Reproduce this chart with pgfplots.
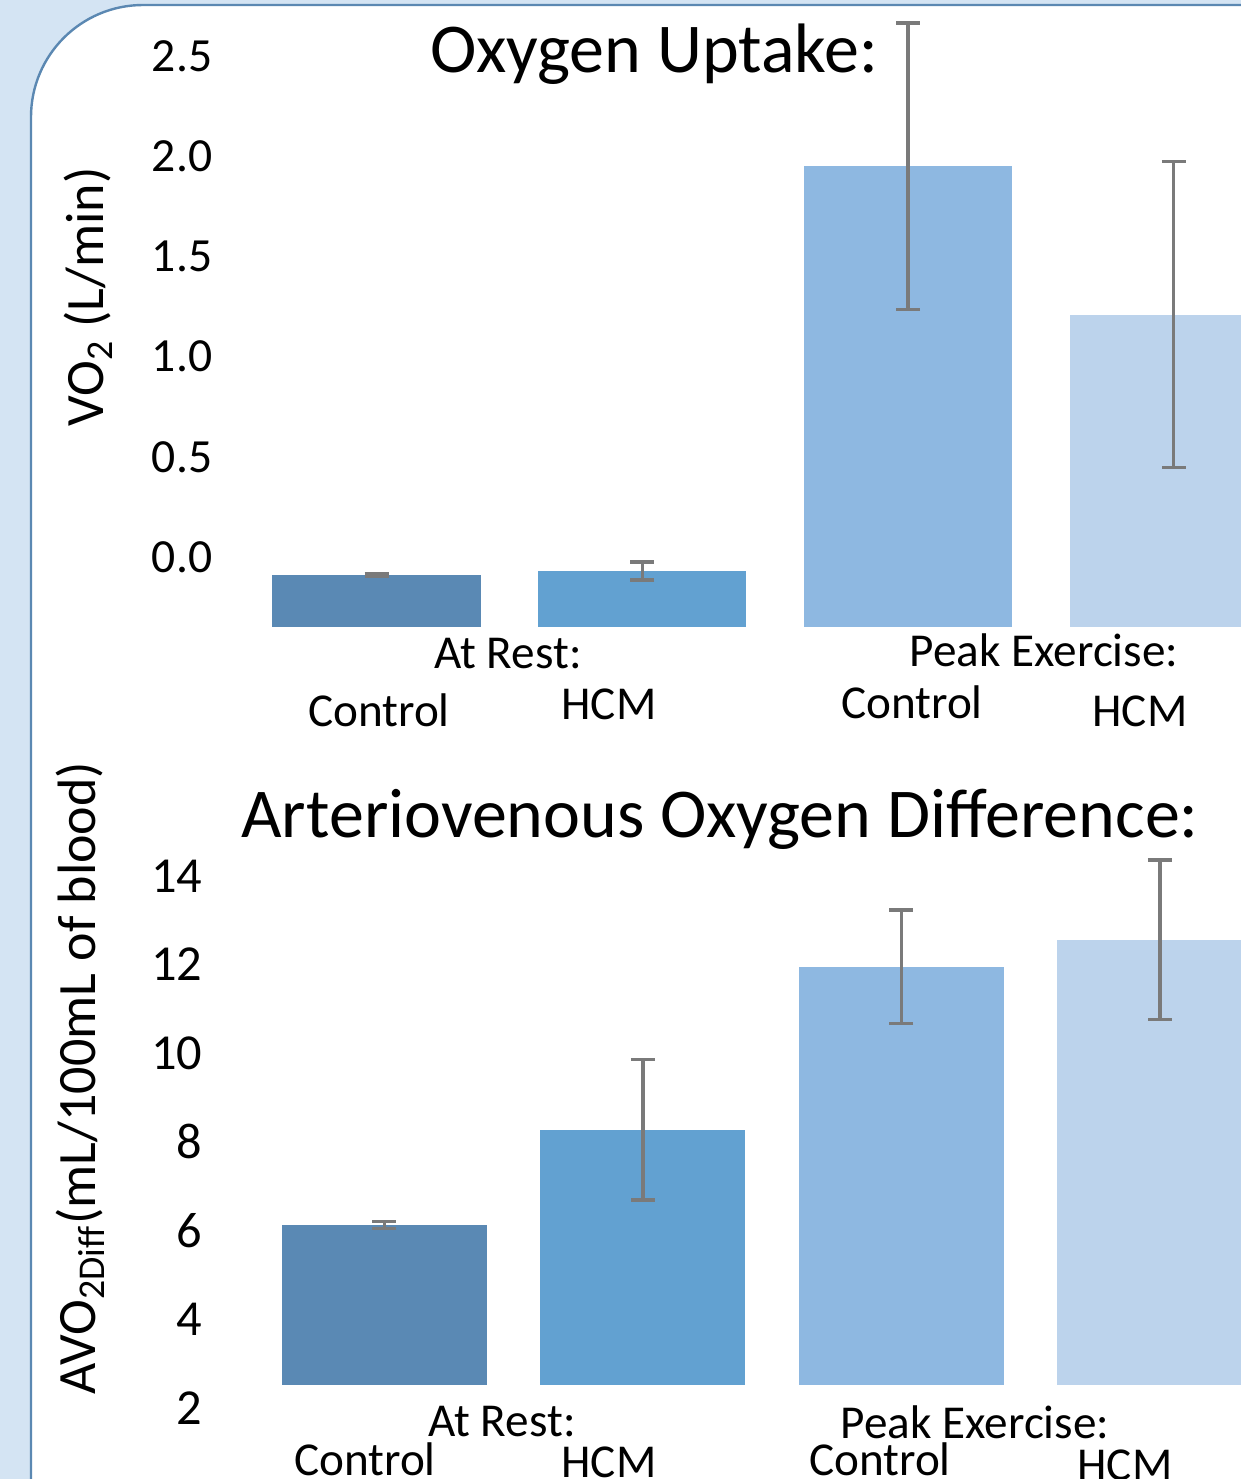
\documentclass[border=0pt]{standalone}
\usepackage{pgfplots}
\pgfplotsset{compat=1.18}
\usepackage{fontspec}
\setmainfont{Carlito}
\definecolor{bgblue}{HTML}{D4E4F3}
\definecolor{panelline}{HTML}{5B88B2}
\definecolor{cA}{HTML}{5A89B4}
\definecolor{cB}{HTML}{62A1D1}
\definecolor{cC}{HTML}{8EB8E1}
\definecolor{cD}{HTML}{BCD3EC}
\definecolor{errgray}{HTML}{7A7A7A}
\newcommand{\fs}[1]{\fontsize{#1}{#1}\selectfont}
\pgfplotsset{
  barstyle/.style={ybar, bar shift=0pt, draw=none,
    error bars/y dir=both, error bars/y explicit,
    error bars/error bar style={errgray, line width=0.8pt},
    error bars/error mark options={errgray, line width=0.8pt, mark size=3pt, rotate=90}},
}
\begin{document}
\begin{tikzpicture}
\useasboundingbox (0,0) rectangle (310.25pt,-369.75pt);
\clip (0,0) rectangle (310.25pt,-369.75pt);
\fill[bgblue] (0,0) rectangle (310.25pt,-369.75pt);
\filldraw[fill=white, draw=panelline, line width=0.6pt, rounded corners=28pt] (7.75pt,-420pt) rectangle (360pt,-1.25pt);

% ---------- top chart: oxygen uptake ----------
\begin{axis}[
  at={(60.9pt,-156.775pt)}, anchor=south west,
  scale only axis, width=265.8pt, height=157.8pt,
  xmin=-0.5, xmax=3.5, ymin=-0.35, ymax=2.8,
  y coord trafo/.code={\pgfmathparse{#1+0.35}},
  y coord inv trafo/.code={\pgfmathparse{#1-0.35}},
  axis line style={draw=none}, tick style={draw=none},
  xtick=\empty,
  ytick={0,0.5,1,1.5,2,2.5},
  yticklabels={0.0,0.5,1.0,1.5,2.0,2.5},
  yticklabel style={font=\fs{11.9}, anchor=east, inner sep=0pt, xshift=-7.65pt},
  bar width=52pt,
  clip=false,
]
\addplot[barstyle, fill=cA] coordinates {(0,-0.09) +- (0,0.006)};
\addplot[barstyle, fill=cB] coordinates {(1,-0.07) +- (0,0.045)};
\addplot[barstyle, fill=cC] coordinates {(2,1.95) +- (0,0.715)};
\addplot[barstyle, fill=cD] coordinates {(3,1.21) +- (0,0.765)};
\end{axis}

% ---------- bottom chart: AVO2 difference ----------
\begin{axis}[
  at={(63.81pt,-379.7pt)}, anchor=south west,
  scale only axis, width=258.5pt, height=169.6pt,
  xmin=-0.5, xmax=3.5, ymin=-0.5, ymax=14.8,
  y coord trafo/.code={\pgfmathparse{#1-2.52}},
  y coord inv trafo/.code={\pgfmathparse{#1+2.52}},
  axis line style={draw=none}, tick style={draw=none},
  xtick=\empty,
  ytick={0,2,4,6,8,10,12,14},
  yticklabels={0,2,4,6,8,10,12,14},
  yticklabel style={font=\fs{12.6}, anchor=east, inner sep=0pt, xshift=-13pt},
  bar width=51.25pt,
  clip=false,
]
\addplot[barstyle, fill=cA] coordinates {(0,6.13) +- (0,0.08)};
\addplot[barstyle, fill=cB] coordinates {(1,8.27) +- (0,1.58)};
\addplot[barstyle, fill=cC] coordinates {(2,11.95) +- (0,1.28)};
\addplot[barstyle, fill=cD] coordinates {(3,12.56) +- (0,1.8)};
\end{axis}

% ---------- texts ----------
\node[anchor=base, inner sep=0pt, font=\fs{17.5}] at (163.5pt,-18pt) {Oxygen Uptake:};
\node[anchor=base, inner sep=0pt, font=\fs{17.5}] at (180pt,-209.25pt) {Arteriovenous Oxygen Difference:};

\node[rotate=90, inner sep=0pt, font=\fs{13.5}] at (22pt,-74.25pt) {VO\textsubscript{2} (L/min)};
\node[rotate=90, inner sep=0pt, font=\fs{13.5}] at (20pt,-269.5pt) {AVO\textsubscript{2Diff}(mL/100mL of blood)};

\begin{scope}[every node/.style={anchor=base, inner sep=0pt, font=\fs{11.8}}]
\node at (127pt,-167pt) {At Rest:};
\node at (94.75pt,-181.5pt) {Control};
\node at (152.25pt,-179.75pt) {HCM};
\node at (261pt,-166.5pt) {Peak Exercise:};
\node at (228pt,-179.5pt) {Control};
\node at (285pt,-181.5pt) {HCM};

\node at (125.5pt,-359pt) {At Rest:};
\node at (91.25pt,-368.75pt) {Control};
\node at (152.25pt,-369.25pt) {HCM};
\node at (243.75pt,-359.5pt) {Peak Exercise:};
\node at (220pt,-368.75pt) {Control};
\node at (281.25pt,-370pt) {HCM};
\end{scope}
\end{tikzpicture}
\end{document}
